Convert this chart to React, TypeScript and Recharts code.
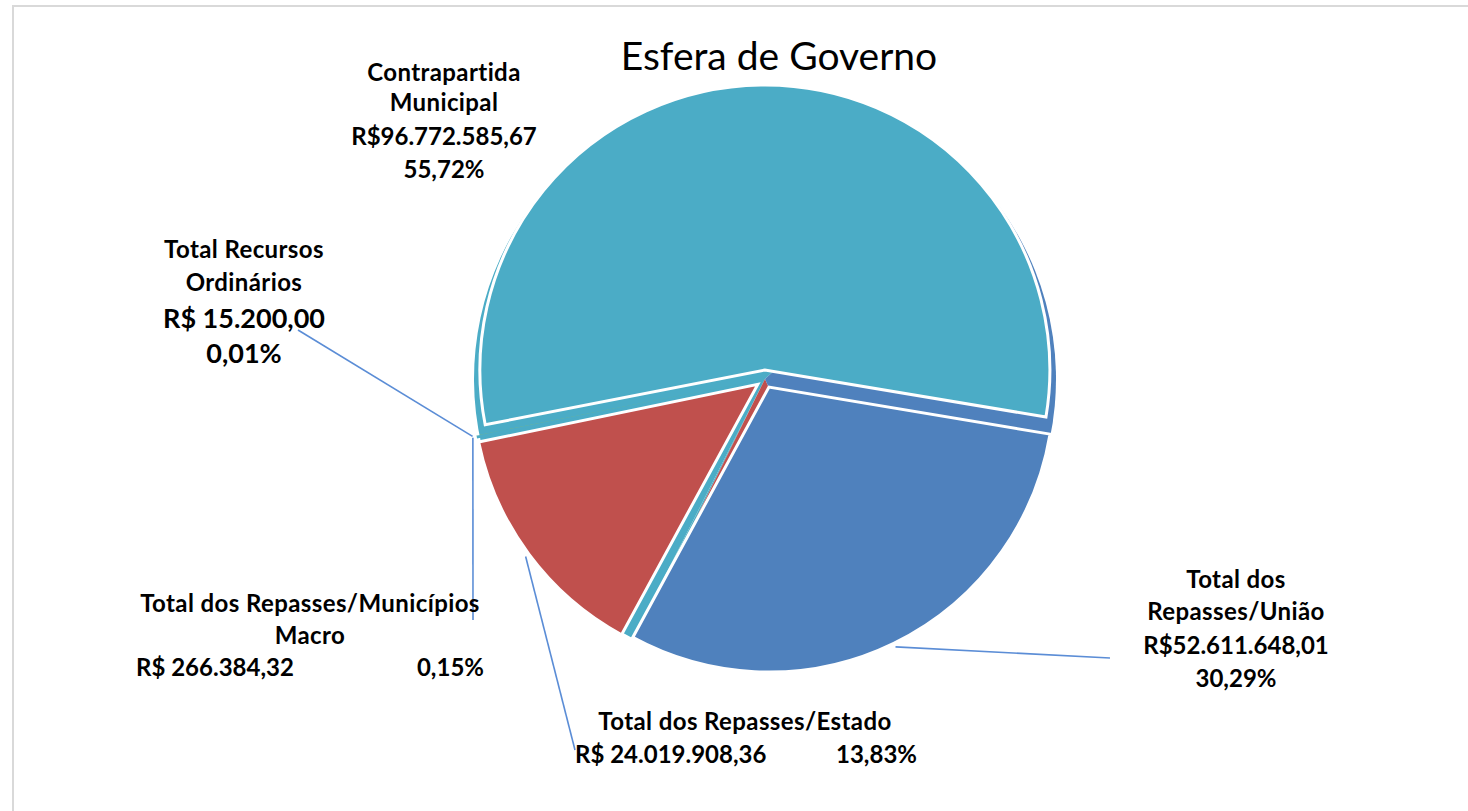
import React from "react";
import { PieChart, Pie, Cell } from "recharts";

// ---------- data ----------
const categories = [
  "Contrapartida\nMunicipal",
  "Total Recursos\nOrdinários",
  "Total dos Repasses/Municípios\nMacro",
  "Total dos Repasses/Estado",
  "Total dos\nRepasses/União",
];
const values = [96772585.67, 15200.0, 266384.32, 24019908.36, 52611648.01];
const currencyPrefixes = ["R$", "R$ ", "R$ ", "R$ ", "R$"];
const colors = ["#4BACC6", "#9BBB59", "#4BACC6", "#C0504D", "#4F81BD"];
const title = "Esfera de Governo";

const data = categories.map((name, i) => ({ name, value: values[i] }));

// ---------- layout ----------
const W = 1468;
const H = 811;
const CX = 765;
const CY = 379;
const R = 285;
const BASE_R = 291;
const EXPLODE = 9;
const START = -9.5;
const BASE_ROT = 52;
const LEADER_R = 298;
const FONT = "Lato, 'Open Sans', 'DejaVu Sans', sans-serif";
const LEADER_COLOR = "#5B8DD6";
const LABEL_FS = 24;
const LABEL_BIG_FS = 27;
const NO_MARGIN = { top: 0, right: 0, bottom: 0, left: 0 };

type LabelLayout = {
  x: number;
  name: number[];
  value?: number;
  pct?: number;
  row?: number;
  left?: number;
  right?: number;
  big?: boolean;
  leader?: [number, number];
};

const LABELS: LabelLayout[] = [
  { x: -321, name: [-298, -268], value: -234, pct: -201 },
  { x: -521, name: [-121, -88], value: -51, pct: -16, big: true, leader: [-467, -49] },
  { x: -455, name: [233, 265], row: 297, left: -629, right: -281, leader: [-292, 241] },
  { x: -20, name: [351], row: 384, left: -190, right: 152, leader: [-190, 371] },
  { x: 471, name: [209, 241], value: 275, pct: 308, leader: [345, 279] },
];

const total = values.reduce((a, b) => a + b, 0);
const midAngles = (() => {
  let cum = 0;
  return values.map((v) => {
    const m = START + (360 * (cum + v / 2)) / total;
    cum += v;
    return m;
  });
})();

const RAD = Math.PI / 180;

function formatBRL(v: number): string {
  const [intPart, dec] = v.toFixed(2).split(".");
  const withDots = intPart.replace(/\B(?=(\d{3})+(?!\d))/g, ".");
  return `${withDots},${dec}`;
}
function formatPct(p: number): string {
  return `${(p * 100).toFixed(2).replace(".", ",")}%`;
}

const renderLabel = (props: any) => {
  const { index, midAngle } = props;
  const cx = typeof props.cx === "number" ? props.cx : CX;
  const cy = typeof props.cy === "number" ? props.cy : CY;
  const L = LABELS[index];
  if (!L) return null;
  const v = values[index];
  const p = v / total;
  const valueText = currencyPrefixes[index] + formatBRL(v);
  const pctText = formatPct(p);
  const lines = categories[index].split("\n");
  const fs = LABEL_FS;
  const bigFs = LABEL_BIG_FS;
  const textStyle = { fontFamily: FONT, fontWeight: 700, fill: "#000" } as const;
  const nameStyle = { ...textStyle, letterSpacing: "0.4px" } as const;
  const elems: React.ReactNode[] = [];
  if (L.leader) {
    const ex = cx + LEADER_R * Math.cos(-midAngle * RAD);
    const ey = cy + LEADER_R * Math.sin(-midAngle * RAD);
    elems.push(
      <line
        key="ld"
        x1={cx + L.leader[0]}
        y1={cy + L.leader[1]}
        x2={ex}
        y2={ey}
        stroke={LEADER_COLOR}
        strokeWidth={1.6}
      />
    );
  }
  lines.forEach((ln, i) => {
    elems.push(
      <text key={"n" + i} x={cx + L.x} y={cy + L.name[i]} textAnchor="middle" fontSize={fs} style={nameStyle}>
        {ln}
      </text>
    );
  });
  if (L.row !== undefined) {
    elems.push(
      <text key="v" x={cx + (L.left as number)} y={cy + L.row} textAnchor="start" fontSize={fs} style={textStyle}>
        {valueText}
      </text>
    );
    elems.push(
      <text key="p" x={cx + (L.right as number)} y={cy + L.row} textAnchor="end" fontSize={fs} style={textStyle}>
        {pctText}
      </text>
    );
  } else {
    elems.push(
      <text key="v" x={cx + L.x} y={cy + (L.value as number)} textAnchor="middle" fontSize={L.big ? bigFs : fs} style={textStyle}>
        {valueText}
      </text>
    );
    elems.push(
      <text key="p" x={cx + L.x} y={cy + (L.pct as number)} textAnchor="middle" fontSize={L.big ? bigFs : fs} style={textStyle}>
        {pctText}
      </text>
    );
  }
  return <g key={"lbl" + index}>{elems}</g>;
};

export default function App() {
  return (
    <div
      style={{
        position: "absolute",
        left: 0,
        top: 0,
        width: W,
        height: H,
        overflow: "hidden",
        background: "#fff",
      }}
    >
      <div
        style={{
          position: "absolute",
          left: 12,
          top: 5,
          width: W + 20,
          height: H + 20,
          border: "2px solid #D9D9D9",
          boxSizing: "border-box",
        }}
      />
      <div
        style={{
          position: "absolute",
          left: 579,
          width: 400,
          top: 32,
          lineHeight: "46px",
          textAlign: "center",
          fontFamily: FONT,
          fontSize: 39,
          color: "#000",
          zIndex: 2,
        }}
      >
        {title}
      </div>
      <div style={{ position: "absolute", left: 0, top: 0 }}>
        <PieChart width={W} height={H} margin={NO_MARGIN}>
          {/* background layer (underlying ring showing between exploded slices) */}
          <Pie
            data={data}
            dataKey="value"
            nameKey="name"
            cx={CX}
            cy={CY}
            outerRadius={BASE_R}
            startAngle={START + BASE_ROT}
            endAngle={START + BASE_ROT + 360}
            stroke="none"
            isAnimationActive={false}
          >
            {data.map((_, i) => (
              <Cell key={i} fill={colors[i]} stroke="none" />
            ))}
          </Pie>
          {/* exploded slices, one layer each */}
          {data.map((_, k) => {
            const dx = EXPLODE * Math.cos(midAngles[k] * RAD);
            const dy = -EXPLODE * Math.sin(midAngles[k] * RAD);
            const tiny = values[k] / total < 0.01;
            return (
              <Pie
                key={"top" + k}
                data={data}
                dataKey="value"
                nameKey="name"
                cx={CX + dx}
                cy={CY + dy}
                outerRadius={R}
                startAngle={START}
                endAngle={START + 360}
                isAnimationActive={false}
              >
                {data.map((__, i) => (
                  <Cell
                    key={i}
                    fill={i === k ? colors[i] : "transparent"}
                    stroke={i === k && !tiny ? "#FFFFFF" : "none"}
                    strokeWidth={3}
                  />
                ))}
              </Pie>
            );
          })}
          {/* labels with leader lines */}
          <Pie
            data={data}
            dataKey="value"
            nameKey="name"
            cx={CX}
            cy={CY}
            outerRadius={R}
            startAngle={START}
            endAngle={START + 360}
            fill="transparent"
            stroke="none"
            label={renderLabel}
            labelLine={false}
            isAnimationActive={false}
          >
            {data.map((_, i) => (
              <Cell key={i} fill="transparent" stroke="none" />
            ))}
          </Pie>
        </PieChart>
      </div>
    </div>
  );
}
